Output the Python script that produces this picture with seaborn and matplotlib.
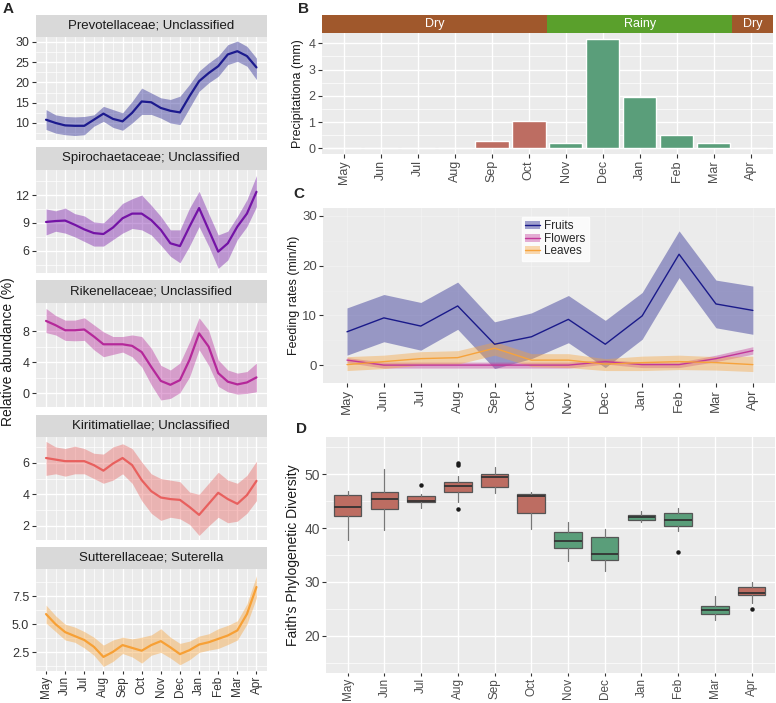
import numpy as np
import pandas as pd
import matplotlib.pyplot as plt
import seaborn as sns
from matplotlib.patches import Patch
from matplotlib.lines import Line2D

months = ['May', 'Jun', 'Jul', 'Aug', 'Sep', 'Oct', 'Nov', 'Dec', 'Jan', 'Feb', 'Mar', 'Apr']
season = ['Dry'] * 6 + ['Rainy'] * 5 + ['Dry']

# A: smoothed relative abundance, read every half month from May to Apr
taxa = ['Prevotellaceae; Unclassified', 'Spirochaetaceae; Unclassified',
        'Rikenellaceae; Unclassified', 'Kiritimatiellae; Unclassified',
        'Sutterellaceae; Suterella']
prevo_fit = [10.8, 10.0, 9.4, 9.3, 9.3, 10.8, 12.3, 11.0, 10.4, 12.5, 15.3, 15.1, 13.7, 13.0, 12.6, 16.6, 20.3, 22.3, 24.0, 26.9, 27.7, 26.5, 23.7]
prevo_hi = [13.3, 12.0, 11.6, 11.5, 11.6, 12.0, 14.1, 13.3, 12.5, 15.3, 18.6, 17.4, 16.2, 15.8, 16.6, 19.5, 22.8, 24.8, 26.5, 29.3, 30.2, 28.9, 26.0]
prevo_lo = [8.4, 7.5, 7.1, 6.9, 7.1, 9.2, 10.4, 8.9, 8.2, 10.0, 12.1, 12.1, 11.2, 10.0, 9.6, 13.7, 17.8, 19.9, 21.5, 24.4, 25.2, 24.0, 20.7]
spiro_fit = [9.1, 9.2, 9.25, 8.8, 8.3, 7.9, 7.8, 8.5, 9.5, 10.0, 10.0, 9.3, 8.25, 6.8, 6.5, 8.6, 10.6, 8.25, 5.9, 6.8, 8.6, 10.0, 12.35]
spiro_hi = [10.5, 10.3, 10.6, 10.0, 9.75, 9.1, 9.0, 10.0, 11.1, 11.6, 12.0, 10.9, 9.7, 8.25, 8.25, 10.6, 12.4, 10.0, 7.7, 8.1, 9.7, 11.5, 14.1]
spiro_lo = [7.7, 8.1, 7.9, 7.5, 7.0, 6.5, 6.5, 7.2, 7.9, 8.4, 8.25, 7.7, 6.6, 5.4, 4.7, 6.5, 8.6, 6.5, 4.1, 5.0, 7.2, 8.6, 10.75]
riken_fit = [9.3, 8.75, 8.1, 8.1, 8.2, 7.3, 6.3, 6.3, 6.3, 6.1, 5.3, 3.4, 1.6, 1.1, 1.7, 4.3, 7.7, 6.0, 2.6, 1.5, 1.15, 1.4, 2.05]
riken_hi = [10.9, 10.0, 9.4, 9.4, 9.7, 8.8, 7.9, 7.3, 7.3, 7.5, 7.3, 5.8, 3.6, 3.0, 3.9, 6.6, 9.7, 8.1, 4.3, 3.0, 2.6, 2.8, 3.9]
riken_lo = [7.8, 7.5, 6.8, 6.75, 6.8, 5.6, 4.7, 5.0, 5.3, 4.7, 3.4, 1.1, -0.85, -0.65, 0.1, 2.1, 5.6, 3.6, 0.9, 0.2, -0.1, 0.0, 0.2]
kiri_fit = [6.3, 6.2, 6.1, 6.1, 6.1, 5.85, 5.5, 5.95, 6.3, 5.85, 4.9, 4.2, 3.8, 3.7, 3.65, 3.2, 2.7, 3.4, 4.1, 3.7, 3.4, 3.95, 4.85]
kiri_hi = [7.35, 7.0, 6.9, 7.05, 6.9, 6.6, 6.55, 7.0, 7.2, 6.9, 6.05, 5.3, 5.0, 4.9, 4.8, 4.15, 4.0, 4.7, 5.4, 4.9, 4.7, 5.2, 6.1]
kiri_lo = [5.2, 5.3, 5.15, 5.3, 5.3, 5.0, 4.7, 4.9, 5.3, 4.7, 3.6, 2.8, 2.35, 2.55, 2.45, 2.1, 1.4, 2.0, 2.55, 2.2, 2.3, 2.8, 3.6]
sutter_fit = [5.9, 5.0, 4.3, 3.95, 3.6, 3.0, 2.1, 2.55, 3.15, 2.9, 2.65, 3.15, 3.5, 2.95, 2.35, 2.7, 3.2, 3.4, 3.7, 4.0, 4.45, 5.9, 8.3]
sutter_hi = [6.7, 5.75, 5.0, 4.75, 4.35, 3.85, 3.15, 3.6, 3.85, 3.7, 3.85, 4.05, 4.6, 3.85, 3.3, 3.5, 3.95, 4.15, 4.6, 4.9, 5.3, 6.8, 9.3]
sutter_lo = [5.1, 4.35, 3.6, 3.4, 2.9, 2.25, 1.25, 1.7, 2.4, 2.1, 1.55, 2.25, 2.5, 2.0, 1.4, 1.85, 2.5, 2.7, 2.85, 3.2, 3.6, 5.0, 7.35]

# B: precipitation
precip = [0, 0, 0.01, 0, 0.28, 1.05, 0.22, 4.18, 1.95, 0.52, 0.22, 0.01]

# C: feeding rates (min/h)
fruits = [6.7, 9.5, 7.85, 11.9, 4.2, 5.7, 9.2, 4.2, 9.9, 22.3, 12.3, 11.0]
fruits_hi = [11.5, 14.2, 12.6, 16.7, 8.7, 10.5, 14.0, 9.0, 14.6, 27.0, 17.1, 15.9]
fruits_lo = [2.0, 4.7, 3.0, 7.2, -0.7, 1.3, 4.5, -0.5, 5.2, 17.6, 7.5, 6.2]
flowers = [1.0, 0.0, 0.0, 0.0, 0.0, 0.0, 0.0, 0.7, 0.1, 0.1, 1.3, 2.9]
flowers_hi = [1.5, 0.6, 0.6, 0.6, 0.6, 0.6, 0.6, 1.1, 0.6, 0.6, 2.0, 3.7]
flowers_lo = [0.5, -0.6, -0.6, -0.6, -0.6, -0.6, -0.6, 0.2, -0.5, -0.5, 0.7, 2.2]
leaves = [0.1, 0.7, 1.3, 1.5, 3.4, 1.0, 1.0, 0.2, 0.5, 0.7, 0.5, 0.1]
leaves_hi = [1.7, 2.0, 2.7, 2.9, 4.7, 2.3, 2.3, 1.3, 1.8, 2.0, 1.7, 1.8]
leaves_lo = [-1.1, -0.7, 0.0, 0.2, 2.0, -0.3, -0.5, -1.1, -1.1, -0.9, -1.0, -1.3]

# D: Faith's PD box stats
pd_whislo = [37.7, 39.6, 43.8, 44.8, 46.5, 39.8, 33.9, 32.0, 41.1, 39.5, 22.9, 26.0]
pd_q1 = [42.2, 43.5, 44.8, 46.7, 47.7, 42.8, 36.3, 34.0, 41.5, 40.3, 24.0, 27.6]
pd_med = [43.9, 45.4, 45.1, 47.8, 49.4, 45.9, 37.6, 35.2, 42.1, 41.5, 24.7, 28.0]
pd_q3 = [46.1, 46.6, 45.9, 48.5, 50.1, 46.4, 39.3, 38.4, 42.4, 42.8, 25.6, 29.1]
pd_whishi = [46.8, 50.9, 46.3, 49.6, 51.3, 46.7, 41.1, 39.9, 43.2, 43.7, 27.3, 30.0]
pd_out = [[], [], [47.9], [52.0, 51.7, 43.5], [], [], [], [], [], [35.5], [], [25.0]]

sns.set_theme(style='darkgrid', rc={'axes.facecolor': '#ebebeb', 'grid.color': 'white',
                                    'axes.edgecolor': '#ebebeb'})
plt.rcParams['font.family'] = ['Liberation Sans', 'DejaVu Sans']

W, H = 776, 703
fig = plt.figure(figsize=(W / 100, H / 100), dpi=100)


def add_ax(x0, y0, x1, y1):
    return fig.add_axes([x0 / W, 1 - y1 / H, (x1 - x0) / W, (y1 - y0) / H])


def style_ax(ax, labelcolor='#333333', size=9):
    for s in ax.spines.values():
        s.set_visible(False)
    ax.tick_params(length=3, width=0.8, color='#333333', pad=1.5, labelsize=size, labelcolor=labelcolor,
                   bottom=True, left=True, which='major')
    ax.tick_params(which='minor', length=0)
    ax.grid(which='major', color='white', lw=1.0)
    ax.grid(which='minor', color='white', lw=0.5)


dry_col, rainy_col = '#bd6d62', '#5a9e7a'
season_pal = {'Dry': dry_col, 'Rainy': rainy_col}

# ---- panel A
fits = [prevo_fit, spiro_fit, riken_fit, kiri_fit, sutter_fit]
his = [prevo_hi, spiro_hi, riken_hi, kiri_hi, sutter_hi]
los = [prevo_lo, spiro_lo, riken_lo, kiri_lo, sutter_lo]
line_cols = ['#1c1a8e', '#7413a6', '#b5289a', '#e8605e', '#f7a035']
ylims = [(5.8, 31.2), (3.6, 14.7), (-1.75, 11.6), (1.11, 7.63), (0.85, 9.9)]
yticks = [[10, 15, 20, 25, 30], [6, 9, 12], [0, 4, 8], [2, 4, 6], [2.5, 5.0, 7.5]]
ytlabels = [None, None, None, None, ['2.5', '5.0', '7.5']]
rows = [(15, 37, 140), (147, 170, 273), (280, 303, 407), (415, 437, 540), (547, 569, 671)]
xs = np.linspace(0, 11, 23)

for i, (s0, p0, p1) in enumerate(rows):
    st = add_ax(35.5, s0, 267, p0)
    st.set_facecolor('#d9d9d9')
    st.set_xticks([]); st.set_yticks([])
    for s in st.spines.values():
        s.set_visible(False)
    st.text(0.5, 0.5, taxa[i], ha='center', va='center', fontsize=9.5, color='#1a1a1a',
            transform=st.transAxes)

    ax = add_ax(35.5, p0, 267, p1)
    ax.fill_between(xs, los[i], his[i], color=line_cols[i], alpha=0.4, lw=0)
    sns.lineplot(x=xs, y=fits[i], color=line_cols[i], lw=1.6, ax=ax)
    ax.set_xlim(-0.55, 11.55)
    ax.set_xticks(range(12))
    ax.set_xticks(np.arange(0.5, 11, 1), minor=True)
    ax.set_yticks(yticks[i])
    step = yticks[i][1] - yticks[i][0]
    ax.set_yticks(np.arange(yticks[i][0] - step * 1.5, yticks[i][-1] + step, step), minor=True)
    ax.set_ylim(*ylims[i])
    if ytlabels[i]:
        ax.set_yticklabels(ytlabels[i])
    style_ax(ax)
    if i < 4:
        ax.tick_params(axis='x', labelbottom=False, bottom=False)
    else:
        ax.set_xticklabels(months, rotation=90)
        ax.tick_params(axis='x', labelsize=8.5, pad=1, length=2.5)

fig.text(0.01, 1 - 352 / H, 'Relative abundance (%)', rotation=90, ha='center', va='center',
         fontsize=10, color='#1a1a1a')

# ---- panel B
xl = (-0.6, 11.6)
sb = add_ax(321.7, 15, 773, 33)
sb.set_xlim(*xl); sb.set_ylim(0, 1)
sb.axvspan(-0.6, 5.5, color='#a0582c', lw=0)
sb.axvspan(5.5, 10.5, color='#5aa02c', lw=0)
sb.axvspan(10.5, 11.6, color='#a0582c', lw=0)
for lab, c in [('Dry', 2.45), ('Rainy', 8.0), ('Dry', 11.05)]:
    sb.text(c, 0.5, lab, ha='center', va='center', color='white', fontsize=9)
sb.set_xticks([]); sb.set_yticks([])
for s in sb.spines.values():
    s.set_visible(False)

axb = add_ax(321.7, 33, 773, 154)
df_b = pd.DataFrame({'month': months, 'precip': precip, 'season': season})
sns.barplot(data=df_b, x='month', y='precip', hue='season', palette=season_pal, width=0.9,
            dodge=False, legend=False, saturation=1, ax=axb)
axb.set_xlim(*xl)
axb.set_ylim(-0.21, 4.39)
axb.set_yticks([0, 1, 2, 3, 4])
axb.set_yticks([0.5, 1.5, 2.5, 3.5], minor=True)
style_ax(axb, labelcolor='#4d4d4d')
axb.set_xticks(range(12))
axb.set_xticklabels(months, rotation=90)
axb.set_xlabel('')
axb.set_ylabel('Precipitationa (mm)', fontsize=9, color='#1a1a1a', labelpad=3)

# ---- panel C
axc = add_ax(323, 208, 775, 383)
xm = np.arange(12)
feed = [(fruits, fruits_lo, fruits_hi, '#1a1a8a', 'Fruits'),
        (flowers, flowers_lo, flowers_hi, '#c2389a', 'Flowers'),
        (leaves, leaves_lo, leaves_hi, '#f6a33c', 'Leaves')]
handles = []
for vals, lo, hi, col, lab in feed:
    axc.fill_between(xm, lo, hi, color=col, alpha=0.4, lw=0)
    sns.lineplot(x=xm, y=vals, color=col, lw=1, ax=axc)
    handles.append((Patch(facecolor=col, alpha=0.4, lw=0), Line2D([], [], color=col, lw=1)))
axc.set_xlim(-0.65, 11.6)
axc.set_ylim(-3.6, 31.6)
axc.set_yticks([0, 10, 20, 30])
axc.set_yticks([5, 15, 25], minor=True)
axc.set_xticks(xm)
axc.set_xticklabels(months, rotation=90)
style_ax(axc, labelcolor='#4d4d4d', size=9.5)
axc.grid(which='major', color='white', lw=0.8, alpha=0.25)
axc.grid(which='minor', color='white', lw=0.5, alpha=0.2)
axc.set_ylabel('Feeding rates (min/h)', fontsize=9, color='#1a1a1a', labelpad=1)
leg = axc.legend(handles, [f[4] for f in feed], loc='upper left', bbox_to_anchor=(0.44, 0.95),
                 fontsize=8.5, frameon=True, fancybox=False, handlelength=1.2, handletextpad=0.4,
                 borderpad=0.3, labelspacing=0.05, borderaxespad=0)
leg.get_frame().set_facecolor('white')
leg.get_frame().set_edgecolor('white')

# ---- panel D
axd = add_ax(326, 436.7, 775, 673)
stats = [{'whislo': pd_whislo[k], 'q1': pd_q1[k], 'med': pd_med[k], 'q3': pd_q3[k],
          'whishi': pd_whishi[k], 'fliers': pd_out[k]} for k in range(12)]
bp = axd.bxp(stats, positions=range(12), widths=0.75, patch_artist=True, showcaps=False,
             boxprops=dict(edgecolor='#555555', lw=0.9),
             medianprops=dict(color='#333333', lw=1.3),
             whiskerprops=dict(color='#777777', lw=0.9),
             flierprops=dict(marker='o', markersize=2.2, markerfacecolor='#1a1a1a',
                             markeredgecolor='#1a1a1a'))
for patch, s in zip(bp['boxes'], season):
    patch.set_facecolor(season_pal[s])
axd.set_xlim(-0.59, 11.64)
axd.set_ylim(13.1, 56.95)
axd.set_yticks([20, 30, 40, 50])
axd.set_yticks([15, 25, 35, 45, 55], minor=True)
axd.set_xticks(range(12))
axd.set_xticklabels(months, rotation=90)
style_ax(axd, labelcolor='#4d4d4d', size=10)
axd.tick_params(axis='x', labelsize=8.5, pad=1, length=2.5)
axd.set_ylabel("Faith's Phylogenetic Diversity", fontsize=10, color='#1a1a1a', labelpad=3)

for lab, x, y in [('A', 3, 2), ('B', 298, 2), ('C', 293, 187), ('D', 296, 422)]:
    fig.text(x / W, 1 - y / H, lab, fontsize=11, fontweight='bold', ha='left', va='top')

fig.savefig('out.png', dpi=100, facecolor='white')
